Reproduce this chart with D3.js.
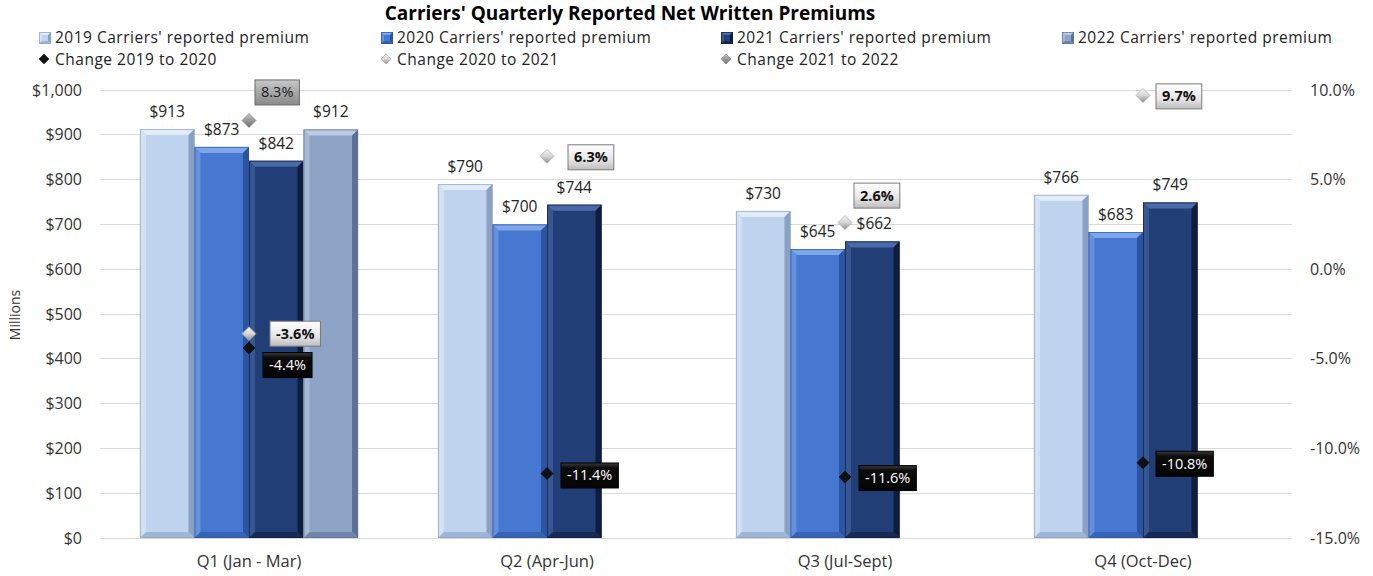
<!DOCTYPE html>
<meta charset="utf-8">
<style>
    body { margin: 0; background: #fff; }
    text { font-family: "Open Sans", sans-serif; fill: #222; }
    .grid line { stroke: #d9d9d9; shape-rendering: crispEdges; }
    .axis text { font-size: 16px; fill: #333; font-family: "Open Sans", sans-serif; }
    .axis path { display: none; }
    .xaxis text { font-size: 16.5px; }
    .legend text { font-size: 15.5px; letter-spacing: 0.5px; fill: #222; }
</style>
<body>
<script src="https://d3js.org/d3.v7.min.js"></script>
<script>
    // chart data
    var quarters = ["Q1 (Jan - Mar)", "Q2 (Apr-Jun)", "Q3 (Jul-Sept)", "Q4 (Oct-Dec)"];
    var seriesNames = ["2019 Carriers' reported premium", "2020 Carriers' reported premium",
        "2021 Carriers' reported premium", "2022 Carriers' reported premium"];
    var premium2019 = [913, 790, 730, 766];
    var premium2020 = [873, 700, 645, 683];
    var premium2021 = [842, 744, 662, 749];
    var premium2022 = [912, null, null, null];

    var changeNames = ["Change 2019 to 2020", "Change 2020 to 2021", "Change 2021 to 2022"];
    var change1920 = [-4.4, -11.4, -11.6, -10.8];
    var change2021 = [-3.6, 6.3, 2.6, 9.7];
    var change2122 = [8.3, null, null, null];

    var leftTicks = [0, 100, 200, 300, 400, 500, 600, 700, 800, 900, 1000];
    var rightTicks = [-15, -10, -5, 0, 5, 10];

    // label nudges (box left offset, box centre offset) from each marker
    var nudge1920 = [[14, 17], [14, 2], [14, 1], [13, 1]];
    var nudge2021 = [[21, 0], [21, 1], [9, -27], [13, 1]];
    var nudge2122 = [[6, -28], null, null, null];

    var barColors = [
        {base: "#bfd3ee", light: "#e2ecf9", dark: "#8aa1c4"},
        {base: "#4678d1", light: "#7ea6ea", dark: "#2b55a1"},
        {base: "#213e77", light: "#4b6ba8", dark: "#0f1d3c"},
        {base: "#8ea4c6", light: "#bccbe2", dark: "#5b7197"}
    ];

    var width = 1373, height = 576;
    var svg = d3.select("body").append("svg")
        .attr("width", width)
        .attr("height", height);

    var defs = svg.append("defs");
    function grad(id, stops) {
        var g = defs.append("linearGradient").attr("id", id)
            .attr("x1", "0%").attr("y1", "0%").attr("x2", "0%").attr("y2", "100%");
        stops.forEach(function(s) {
            g.append("stop").attr("offset", s[0]).attr("stop-color", s[1]);
        });
    }
    grad("boxLight", [["0%", "#ffffff"], ["60%", "#e6e6e6"], ["100%", "#bdbdbd"]]);
    grad("boxGrey", [["0%", "#c8c8c8"], ["55%", "#a4a4a4"], ["100%", "#8a8a8a"]]);
    grad("boxBlack", [["0%", "#3a3a3a"], ["20%", "#0c0c0c"], ["100%", "#050505"]]);
    grad("mkLight", [["0%", "#f4f4f4"], ["50%", "#d6d6d6"], ["100%", "#8e8e8e"]]);
    grad("mkGrey", [["0%", "#c4c4c4"], ["50%", "#9a9a9a"], ["100%", "#6e6e6e"]]);

    var x0 = d3.scaleBand()
        .domain(quarters)
        .range([100, 1292])
        .paddingInner(0.268)
        .paddingOuter(0.134);

    var x1 = d3.scaleBand()
        .domain(d3.range(4))
        .range([0, x0.bandwidth()]);

    var y = d3.scaleLinear().domain([0, 1000]).range([538, 90]);
    var yR = d3.scaleLinear().domain([-15, 10]).range([538, 90]);

    // gridlines
    svg.append("g").attr("class", "grid")
        .selectAll("line").data(leftTicks).enter().append("line")
        .attr("x1", 100).attr("x2", 1292)
        .attr("y1", function(d) { return y(d); })
        .attr("y2", function(d) { return y(d); });

    // axes
    svg.append("g").attr("class", "axis")
        .attr("transform", "translate(100,0)")
        .call(d3.axisLeft(y).tickValues(leftTicks).tickSize(0).tickPadding(18)
            .tickFormat(function(d) { return "$" + d3.format(",")(d); }));

    svg.append("g").attr("class", "axis")
        .attr("transform", "translate(1292,0)")
        .call(d3.axisRight(yR).tickValues(rightTicks).tickSize(0).tickPadding(18)
            .tickFormat(function(d) { return d.toFixed(1) + "%"; }));

    svg.append("g").attr("class", "axis xaxis")
        .attr("transform", "translate(0,538)")
        .call(d3.axisBottom(x0).tickSize(0).tickPadding(17));

    svg.append("text")
        .attr("transform", "translate(20,315) rotate(-90)")
        .attr("text-anchor", "middle")
        .style("font-size", "14px").style("fill", "#333")
        .text("Millions");

    // bars
    var premiums = [premium2019, premium2020, premium2021, premium2022];
    var bars = [];
    premiums.forEach(function(arr, s) {
        arr.forEach(function(v, q) {
            if (v != null) bars.push({s: s, q: q, v: v});
        });
    });

    function drawBar(g, bx, by, bw, bh, c, b) {
        g.append("rect").attr("x", bx).attr("y", by).attr("width", bw).attr("height", bh)
            .attr("fill", c.base);
        function poly(pts, fill) {
            g.append("polygon").attr("points", pts.map(function(p) { return p.join(","); }).join(" "))
                .attr("fill", fill);
        }
        poly([[bx, by], [bx + bw, by], [bx + bw - b, by + b], [bx + b, by + b]], c.light);
        poly([[bx, by], [bx + b, by + b], [bx + b, by + bh - b], [bx, by + bh]], d3.interpolateRgb(c.light, c.base)(0.45));
        poly([[bx + bw, by], [bx + bw, by + bh], [bx + bw - b, by + bh - b], [bx + bw - b, by + b]], c.dark);
        poly([[bx, by + bh], [bx + b, by + bh - b], [bx + bw - b, by + bh - b], [bx + bw, by + bh]], d3.interpolateRgb(c.base, c.dark)(0.6));
        g.append("rect").attr("x", bx + 0.5).attr("y", by + 0.5).attr("width", bw - 1).attr("height", bh - 1)
            .attr("fill", "none").attr("stroke", c.dark).attr("stroke-width", 1).attr("stroke-opacity", 0.7);
    }

    var barG = svg.append("g");
    bars.forEach(function(d) {
        var bx = x0(quarters[d.q]) + x1(d.s);
        drawBar(barG, bx, y(d.v), x1.bandwidth(), y(0) - y(d.v), barColors[d.s], 6);
    });

    // value labels
    svg.append("g").selectAll("text").data(bars).enter().append("text")
        .attr("x", function(d) { return x0(quarters[d.q]) + x1(d.s) + x1.bandwidth() / 2 + (d.s == 2 && d.q == 2 ? 2 : 0); })
        .attr("y", function(d) { return y(d.v) - 12; })
        .attr("text-anchor", "middle")
        .style("font-size", "15.5px")
        .text(function(d) { return "$" + d.v; });

    // change markers + labels
    var changeSeries = [
        {vals: change1920, nudge: nudge1920, mk: "#111", mkStroke: "#000", box: "url(#boxBlack)", boxStroke: "#000", txt: "#fff", weight: "normal", r: 6},
        {vals: change2021, nudge: nudge2021, mk: "url(#mkLight)", mkStroke: "#999", box: "url(#boxLight)", boxStroke: "#7a7a7a", txt: "#111", weight: "bold", r: 7},
        {vals: change2122, nudge: nudge2122, mk: "url(#mkGrey)", mkStroke: "#777", box: "url(#boxGrey)", boxStroke: "#6a6a6a", txt: "#1a1a1a", weight: "normal", r: 7}
    ];

    var markG = svg.append("g");
    var labG = svg.append("g");
    changeSeries.forEach(function(cs) {
        cs.vals.forEach(function(v, q) {
            if (v == null) return;
            var mx = x0(quarters[q]) + x0.bandwidth() / 2;
            var my = yR(v);
            var r = cs.r;
            markG.append("path")
                .attr("d", "M" + mx + "," + (my - r) + "L" + (mx + r) + "," + my + "L" + mx + "," + (my + r) + "L" + (mx - r) + "," + my + "Z")
                .attr("fill", cs.mk).attr("stroke", cs.mkStroke).attr("stroke-width", 0.6);

            var n = cs.nudge[q];
            var lx = mx + n[0], ly = my + n[1];
            var g = labG.append("g");
            var t = g.append("text")
                .attr("x", lx + 6).attr("y", ly + 5)
                .style("font-size", "14.5px")
                .style("font-weight", cs.weight)
                .style("fill", cs.txt)
                .text(v.toFixed(1) + "%");
            var tw = t.node().getComputedTextLength();
            g.insert("rect", "text")
                .attr("x", lx).attr("y", ly - 12.5)
                .attr("width", tw + 12).attr("height", 25)
                .attr("fill", cs.box).attr("stroke", cs.boxStroke).attr("stroke-width", 1);
        });
    });

    // title
    svg.append("text")
        .attr("x", 630).attr("y", 20)
        .attr("text-anchor", "middle")
        .style("font-size", "19px").style("font-weight", "bold").style("fill", "#000")
        .text("Carriers' Quarterly Reported Net Written Premiums");

    // legend
    var legX = [39, 381, 721, 1062];
    var leg = svg.append("g").attr("class", "legend");
    seriesNames.forEach(function(name, i) {
        var c = barColors[i];
        var lg = leg.append("g");
        drawBar(lg, legX[i], 32, 12, 12, c, 3);
        lg.append("text").attr("x", legX[i] + 16).attr("y", 43).text(name);
    });
    changeNames.forEach(function(name, i) {
        var cs = changeSeries[i];
        var cx = legX[i] + 5, cy = 59, r = 5;
        leg.append("path")
            .attr("d", "M" + cx + "," + (cy - r) + "L" + (cx + r) + "," + cy + "L" + cx + "," + (cy + r) + "L" + (cx - r) + "," + cy + "Z")
            .attr("fill", cs.mk).attr("stroke", cs.mkStroke).attr("stroke-width", 0.5);
        leg.append("text").attr("x", legX[i] + 16).attr("y", 65).text(name);
    });
</script>
</body>
